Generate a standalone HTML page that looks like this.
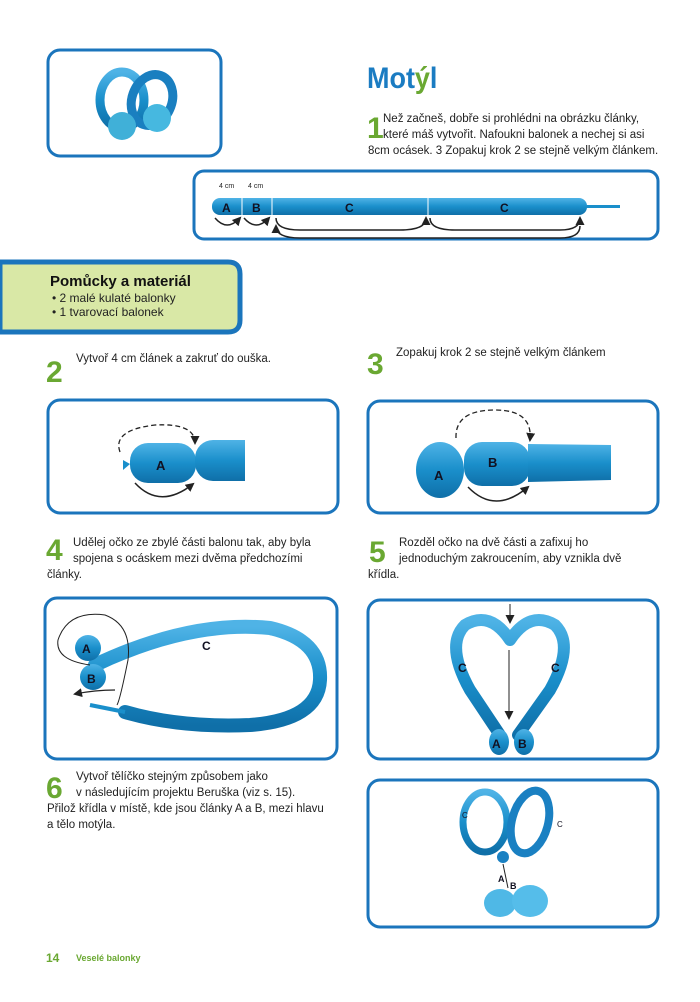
<!DOCTYPE html>
<html><head><meta charset="utf-8"><style>
body{margin:0;background:#fff;}
svg{display:block}
text{font-family:"Liberation Sans",sans-serif;}
</style></head><body>
<svg width="700" height="1002" viewBox="0 0 700 1002" xmlns="http://www.w3.org/2000/svg">
<defs>
<linearGradient id="bl" x1="0" y1="0" x2="0" y2="1"><stop offset="0" stop-color="#4fb3e6"/><stop offset="0.5" stop-color="#1a8fcb"/><stop offset="1" stop-color="#0f6fa8"/></linearGradient>
<marker id="ah" markerUnits="userSpaceOnUse" markerWidth="9" markerHeight="9" refX="7" refY="4.5" orient="auto"><path d="M0,0 L9,4.5 L0,9 z" fill="#222"/></marker>
</defs>
<g fill="none" stroke="#1b75bc" stroke-width="3">
<rect x="48" y="50" width="173" height="106" rx="12"/>
<rect x="194" y="171" width="464" height="68" rx="10"/>
<rect x="48" y="400" width="290" height="113" rx="12"/>
<rect x="368" y="401" width="290" height="112" rx="12"/>
<rect x="45" y="598" width="292" height="161" rx="12"/>
<rect x="368" y="600" width="290" height="159" rx="12"/>
<rect x="368" y="780" width="290" height="147" rx="12"/>
</g>
<path d="M0,262 H228 Q240,262 240,274 V320 Q240,332 228,332 H0 Z" fill="#d9e8a6" stroke="#1b75bc" stroke-width="5"/>
<text x="50" y="286" font-size="15" font-weight="bold" fill="#111">Pomůcky a materiál</text>
<text x="52" y="302" font-size="12" fill="#222">•  2 malé kulaté balonky</text>
<text x="52" y="316" font-size="12" fill="#222">•  1 tvarovací balonek</text>
<text x="367" y="88" font-size="30" font-weight="bold" fill="#1b7cc2" transform="translate(367 0) scale(0.9 1) translate(-367 0)">Mot<tspan fill="#6aa832">ý</tspan>l</text>
<text x="367" y="138" font-size="30" font-weight="bold" fill="#6aa832">1</text>
<g font-size="11.5" fill="#222">
<text x="383" y="122">Než začneš, dobře si prohlédni na obrázku články,</text>
<text x="383" y="138">které máš vytvořit. Nafoukni balonek a nechej si asi</text>
<text x="368" y="154">8cm ocásek. 3 Zopakuj krok 2 se stejně velkým článkem.</text>
<text x="76" y="362">Vytvoř 4 cm článek a zakruť do ouška.</text>
<text x="396" y="356">Zopakuj krok 2 se stejně velkým článkem</text>
<text x="73" y="546">Udělej očko ze zbylé části balonu tak, aby byla</text>
<text x="73" y="562">spojena s ocáskem mezi dvěma předchozími</text>
<text x="47" y="578">články.</text>
<text x="399" y="546">Rozděl očko na dvě části a zafixuj ho</text>
<text x="399" y="562">jednoduchým zakroucením, aby vznikla dvě</text>
<text x="368" y="578">křídla.</text>
<text x="76" y="780">Vytvoř tělíčko stejným způsobem jako</text>
<text x="76" y="796">v následujícím projektu Beruška (viz s. 15).</text>
<text x="47" y="812">Přilož křídla v místě, kde jsou články A a B, mezi hlavu</text>
<text x="47" y="828">a tělo motýla.</text>
</g>
<g font-size="30" font-weight="bold" fill="#6aa832">
<text x="46" y="382">2</text><text x="367" y="374">3</text>
<text x="46" y="560">4</text><text x="369" y="562">5</text><text x="46" y="798">6</text>
</g>
<text x="46" y="962" font-size="12" font-weight="bold" fill="#6aa832">14</text>
<text x="76" y="961" font-size="9" font-weight="bold" fill="#6aa832">Veselé balonky</text>
<!-- photo -->
<g>
<ellipse cx="122" cy="100" rx="22" ry="28" fill="none" stroke="url(#bl)" stroke-width="9"/>
<ellipse cx="152" cy="100" rx="20" ry="26" fill="none" stroke="#1a7fc0" stroke-width="9" transform="rotate(20 152 100)"/>
<circle cx="122" cy="126" r="14" fill="#40b0d8"/>
<circle cx="157" cy="118" r="14" fill="#46b8e0"/>
</g>
<!-- strip -->
<text x="219" y="188" font-size="7" fill="#222">4 cm</text><text x="248" y="188" font-size="7" fill="#222">4 cm</text>
<rect x="582" y="205" width="38" height="3" fill="#1a8fcb"/>
<rect x="212" y="198" width="375" height="17" rx="8" fill="url(#bl)"/>
<g stroke="#fff" stroke-width="1"><line x1="242" y1="198" x2="242" y2="215"/><line x1="272" y1="198" x2="272" y2="215"/><line x1="428" y1="198" x2="428" y2="215"/></g>
<g font-size="12" font-weight="bold" fill="#112"><text x="222" y="212">A</text><text x="252" y="212">B</text><text x="345" y="212">C</text><text x="500" y="212">C</text></g>
<g fill="none" stroke="#222" stroke-width="1.5" marker-end="url(#ah)">
<path d="M215,218 Q227,232 240,218"/><path d="M244,218 Q256,232 269,218"/>
<path d="M276,218 Q276,230 300,230 H400 Q426,230 426,218"/>
<path d="M430,218 Q430,230 455,230 H560 Q580,230 580,218"/>
<path d="M580,226 Q580,238 560,238 H300 Q276,238 276,226"/>
</g>
<!-- step2 -->
<rect x="130" y="443" width="66" height="40" rx="18" fill="url(#bl)"/>
<rect x="195" y="440" width="48" height="41" rx="18" fill="url(#bl)"/>
<rect x="225" y="440" width="20" height="41" fill="url(#bl)"/>
<path d="M123,460 L130,464 L123,470 z" fill="#1a8fcb"/>
<text x="156" y="470" font-size="13" font-weight="bold" fill="#112">A</text>
<path d="M120,452 Q112,430 155,425 Q195,423 195,443" fill="none" stroke="#222" stroke-width="1.3" stroke-dasharray="5,3" marker-end="url(#ah)"/>
<path d="M135,483 Q160,510 193,484" fill="none" stroke="#222" stroke-width="1.5" marker-end="url(#ah)"/>
<!-- step3 -->
<ellipse cx="440" cy="470" rx="24" ry="28" fill="url(#bl)"/>
<rect x="464" y="442" width="66" height="44" rx="18" fill="url(#bl)"/>
<path d="M528,444 L611,445 L611,480 L528,482 z" fill="url(#bl)"/>
<text x="488" y="467" font-size="13" font-weight="bold" fill="#112">B</text>
<text x="434" y="480" font-size="13" font-weight="bold" fill="#112">A</text>
<path d="M456,438 Q455,410 495,410 Q533,410 530,440" fill="none" stroke="#222" stroke-width="1.3" stroke-dasharray="5,3" marker-end="url(#ah)"/>
<path d="M468,487 Q495,515 528,487" fill="none" stroke="#222" stroke-width="1.5" marker-end="url(#ah)"/>
<!-- step4 -->
<path d="M95,665 Q190,620 270,628 Q322,640 320,680 Q318,720 250,725 Q180,728 125,712" fill="none" stroke="url(#bl)" stroke-width="14" stroke-linecap="round"/>
<path d="M125,712 L90,705" stroke="#1a8fcb" stroke-width="4"/>
<circle cx="88" cy="648" r="13" fill="url(#bl)"/><circle cx="93" cy="677" r="13" fill="url(#bl)"/>
<text x="82" y="653" font-size="12" font-weight="bold" fill="#112">A</text><text x="87" y="683" font-size="12" font-weight="bold" fill="#112">B</text>
<text x="202" y="650" font-size="12" font-weight="bold" fill="#112">C</text>
<path d="M90,665 Q55,660 58,640 Q68,610 105,615 Q132,625 128,660 Q120,700 117,705" fill="none" stroke="#222" stroke-width="1"/>
<path d="M115,690 Q95,690 75,694" fill="none" stroke="#222" stroke-width="1.3" marker-end="url(#ah)"/>
<!-- step5 -->
<path d="M510,640 Q490,610 465,625 Q445,645 470,690 L500,735 M510,640 Q530,610 555,625 Q575,645 550,690 L518,735" fill="none" stroke="url(#bl)" stroke-width="12" stroke-linecap="round"/>
<ellipse cx="499" cy="742" rx="10" ry="13" fill="url(#bl)"/><ellipse cx="524" cy="742" rx="10" ry="13" fill="url(#bl)"/>
<text x="492" y="748" font-size="12" font-weight="bold" fill="#112">A</text><text x="518" y="748" font-size="12" font-weight="bold" fill="#112">B</text>
<text x="458" y="672" font-size="12" font-weight="bold" fill="#112">C</text><text x="551" y="672" font-size="12" font-weight="bold" fill="#112">C</text>
<line x1="510" y1="604" x2="510" y2="622" stroke="#222" stroke-width="1" marker-end="url(#ah)"/>
<line x1="509" y1="650" x2="509" y2="718" stroke="#222" stroke-width="1" marker-end="url(#ah)"/>
<!-- final -->
<ellipse cx="485" cy="822" rx="22" ry="30" fill="none" stroke="url(#bl)" stroke-width="7"/>
<ellipse cx="530" cy="822" rx="18" ry="32" fill="none" stroke="#1a80c2" stroke-width="8" transform="rotate(15 530 822)"/>
<circle cx="503" cy="857" r="6" fill="#1a80c2"/>
<text x="462" y="818" font-size="8" fill="#112">C</text><text x="557" y="827" font-size="8" fill="#112">C</text>
<text x="498" y="882" font-size="9" font-weight="bold" fill="#112">A</text><text x="510" y="889" font-size="9" font-weight="bold" fill="#112">B</text>
<line x1="503" y1="864" x2="508" y2="888" stroke="#222" stroke-width="1"/>
<ellipse cx="500" cy="903" rx="16" ry="14" fill="#4fb8e6"/><ellipse cx="530" cy="901" rx="18" ry="16" fill="#55bdea"/>
</svg>
</body></html>
